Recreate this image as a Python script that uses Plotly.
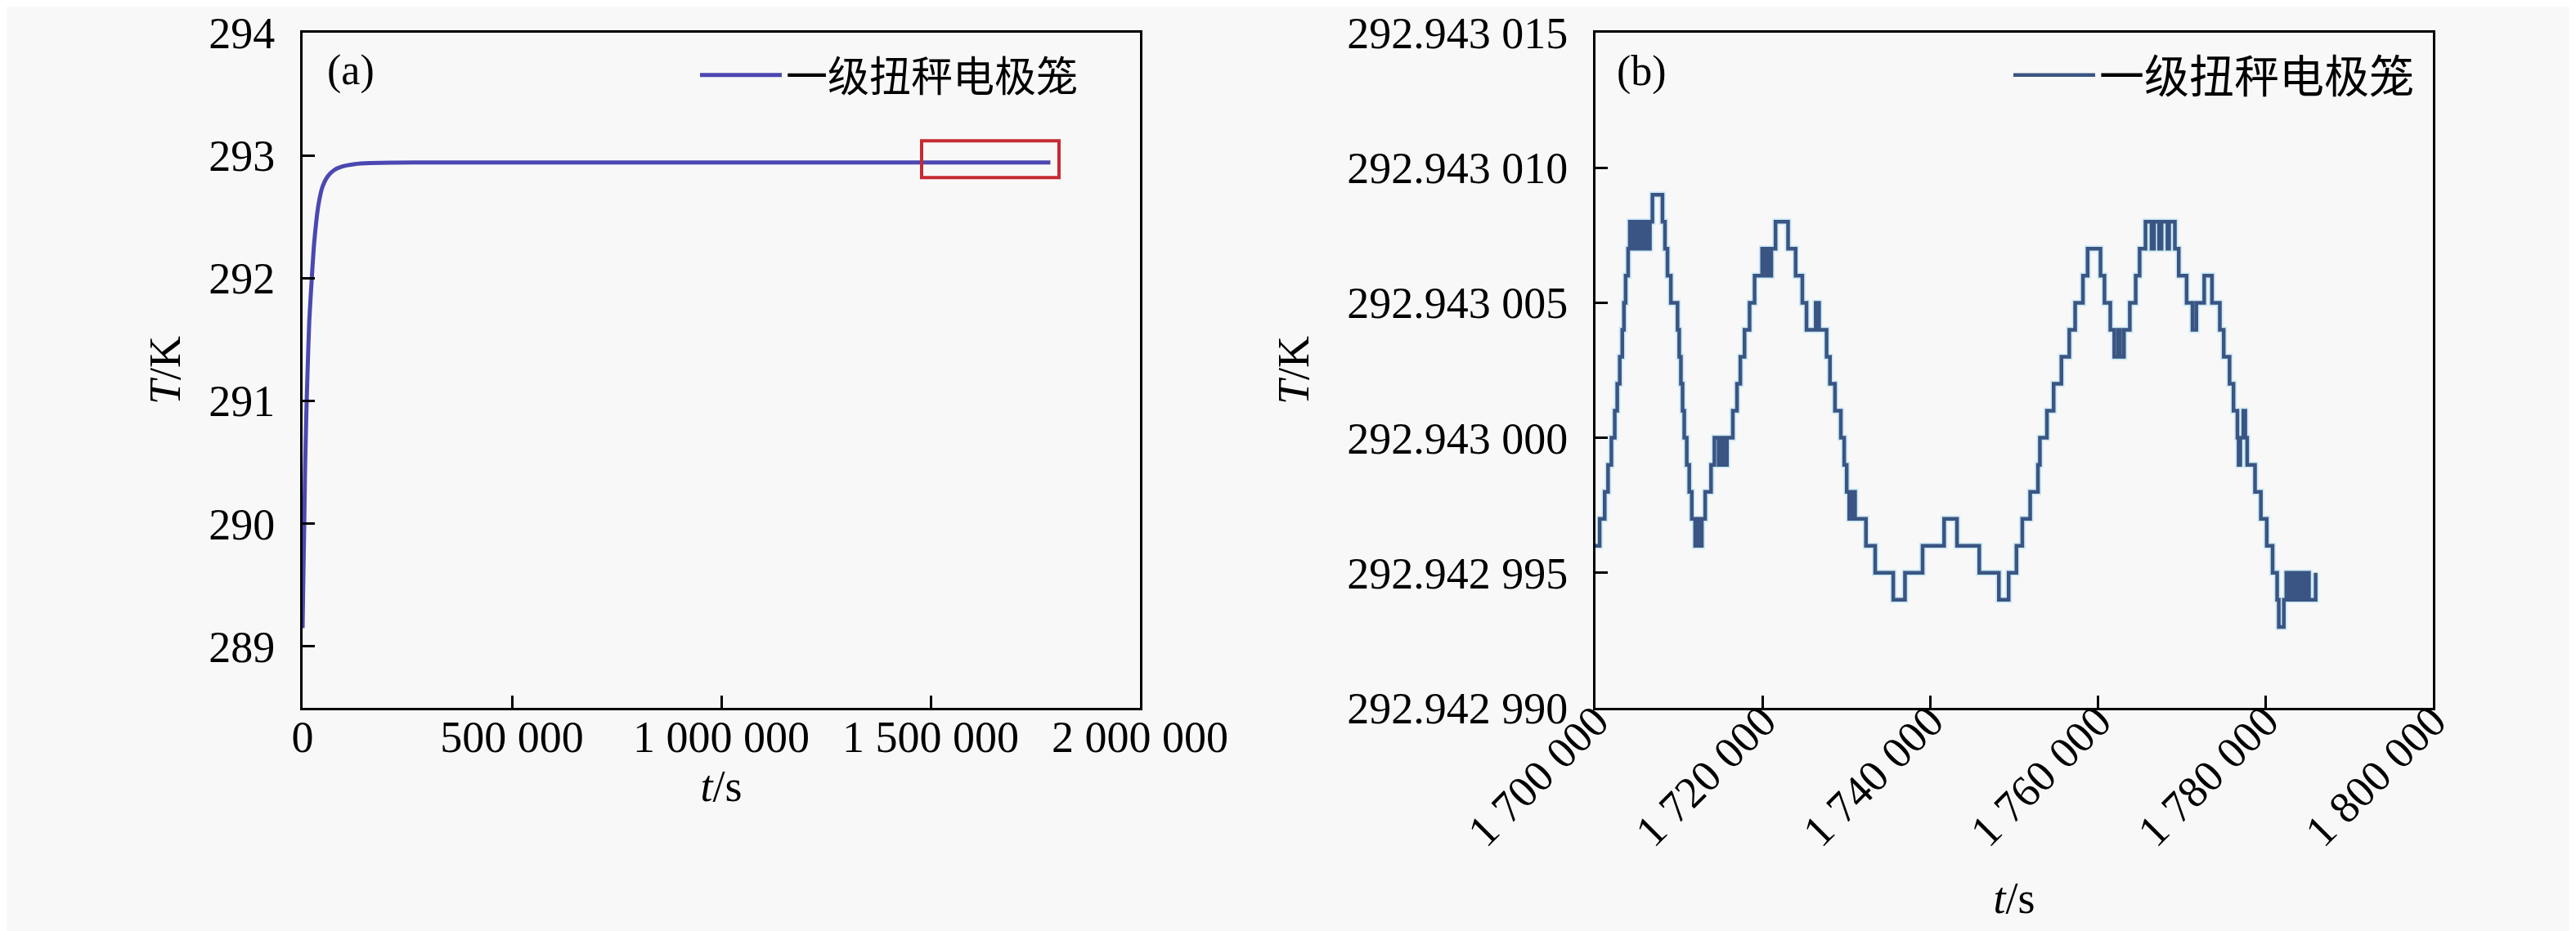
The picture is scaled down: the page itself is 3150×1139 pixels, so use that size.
import plotly.graph_objects as go

# ---------------- data ----------------
# panel (a): full run
t_a = [0, 2000, 4000, 6000, 9000, 12000, 16000, 22000, 28000, 38000, 48000,
       60000, 75000, 95000, 125000, 160000, 220000, 300000, 1786000]
T_a = [289.15, 289.6, 290.0, 290.45, 290.9, 291.25, 291.65, 292.0, 292.3, 292.6,
       292.75, 292.83, 292.88, 292.91, 292.93, 292.938, 292.941, 292.943, 292.943]

# panel (b): zoom of the red box (step data)
t_b = [1700000, 1700500, 1701100, 1701500, 1701900, 1702300, 1702600, 1702900, 1703200, 1703400,
       1703600, 1703900, 1704100, 1704300, 1704500, 1704800, 1705000, 1705300, 1705500, 1705800,
       1706000, 1706300, 1706500, 1706800, 1708000, 1708300, 1708600, 1709000, 1709800, 1710000,
       1710200, 1710400, 1710600, 1710900, 1711200, 1711500, 1711900, 1712100, 1712200, 1712400,
       1712500, 1712700, 1713100, 1713800, 1714200, 1714700, 1714900, 1715100, 1715300, 1715500,
       1715700, 1716400, 1716900, 1717300, 1717800, 1718400, 1719000, 1719900, 1720200, 1720500,
       1720700, 1721000, 1721500, 1723000, 1723900, 1724700, 1725200, 1726300, 1726700, 1727600,
       1728000, 1728600, 1729300, 1729700, 1730000, 1730300, 1730400, 1730600, 1730800, 1731000,
       1732300, 1733400, 1735560, 1736960, 1739060, 1741630, 1743170, 1745830, 1748170, 1749340,
       1750270, 1750970, 1751910, 1752840, 1753070, 1753910, 1754710, 1755640, 1756580, 1757280,
       1758210, 1758770, 1760310, 1760780, 1761480, 1761950, 1762410, 1762650, 1763110, 1763810,
       1764510, 1764980, 1765680, 1766400, 1766700, 1767300, 1767600, 1768300, 1768500, 1769190,
       1769650, 1770590, 1771290, 1771750, 1772690, 1773620, 1774560, 1775020, 1775720, 1776190,
       1776660, 1776800, 1777000, 1777360, 1777600, 1777820, 1778760, 1779460, 1780160, 1780860,
       1781400, 1781600, 1782200, 1782500, 1782700, 1783000, 1783200, 1783500, 1783700, 1784000,
       1784200, 1784500, 1784700, 1785000, 1785200, 1786000]
T_b = [292.942996, 292.942997, 292.942998, 292.942999, 292.943000, 292.943001, 292.943002, 292.943003, 292.943004, 292.943005,
       292.943006, 292.943007, 292.943008, 292.943007, 292.943008, 292.943007, 292.943008, 292.943007, 292.943008, 292.943007,
       292.943008, 292.943007, 292.943008, 292.943009, 292.943008, 292.943007, 292.943006, 292.943005, 292.943004, 292.943003,
       292.943002, 292.943001, 292.943000, 292.942999, 292.942998, 292.942997, 292.942996, 292.942997, 292.942996, 292.942997,
       292.942996, 292.942997, 292.942998, 292.942999, 292.943000, 292.942999, 292.943000, 292.942999, 292.943000, 292.942999,
       292.943000, 292.943001, 292.943002, 292.943003, 292.943004, 292.943005, 292.943006, 292.943007, 292.943006, 292.943007,
       292.943006, 292.943007, 292.943008, 292.943007, 292.943006, 292.943005, 292.943004, 292.943005, 292.943004, 292.943003,
       292.943002, 292.943001, 292.943000, 292.942999, 292.942998, 292.942997, 292.942998, 292.942997, 292.942998, 292.942997,
       292.942996, 292.942995, 292.942994, 292.942995, 292.942996, 292.942997, 292.942996, 292.942995, 292.942994, 292.942995,
       292.942996, 292.942997, 292.942998, 292.942999, 292.943000, 292.943001, 292.943002, 292.943003, 292.943004, 292.943005,
       292.943006, 292.943007, 292.943006, 292.943005, 292.943004, 292.943003, 292.943004, 292.943003, 292.943004, 292.943005,
       292.943006, 292.943007, 292.943008, 292.943007, 292.943008, 292.943007, 292.943008, 292.943007, 292.943008, 292.943007,
       292.943006, 292.943005, 292.943004, 292.943005, 292.943006, 292.943005, 292.943004, 292.943003, 292.943002, 292.943001,
       292.943000, 292.942999, 292.943000, 292.943001, 292.943000, 292.942999, 292.942998, 292.942997, 292.942996, 292.942995,
       292.942994, 292.942993, 292.942994, 292.942995, 292.942994, 292.942995, 292.942994, 292.942995, 292.942994, 292.942995,
       292.942994, 292.942995, 292.942994, 292.942995, 292.942994, 292.942995]

# red box in (a): [t0, t1], [T0, T1]
box_t = [1478500, 1806600]
box_T = [292.82, 293.12]

series_name = "一级扭秤电极笼"

xa_ticks = [0, 500000, 1000000, 1500000, 2000000]
xa_text = ["0", "500 000", "1 000 000", "1 500 000", "2 000 000"]
ya_ticks = [289, 290, 291, 292, 293, 294]
ya_text = ["289", "290", "291", "292", "293", "294"]
xb_ticks = [1700000, 1720000, 1740000, 1760000, 1780000, 1800000]
xb_text = ["1 700 000", "1 720 000", "1 740 000", "1 760 000", "1 780 000", "1 800 000"]
yb_ticks = [292.942990, 292.942995, 292.943000, 292.943005, 292.943010, 292.943015]
yb_text = ["292.942 990", "292.942 995", "292.943 000", "292.943 005", "292.943 010", "292.943 015"]

# ---------------- figure ----------------
W, H = 3150, 1139
SERIF = "Liberation Serif, Times New Roman, serif"
CJK = "Liberation Serif, Noto Sans CJK SC, sans-serif"
BG = "#f8f8f8"

def px(v):
    return v / W

def py(v):
    return 1 - v / H

fig = go.Figure()

fig.add_trace(go.Scatter(x=t_a, y=T_a, mode="lines", name=series_name,
                         line=dict(color="#4b48b2", width=5, shape="spline", smoothing=0.6),
                         xaxis="x", yaxis="y", legend="legend"))

fig.add_trace(go.Scatter(x=t_b, y=T_b, mode="lines", name=series_name,
                         line=dict(color="#cde9f5", width=8, shape="hv"),
                         xaxis="x2", yaxis="y2", showlegend=False, hoverinfo="skip"))
fig.add_trace(go.Scatter(x=t_b, y=T_b, mode="lines", name=series_name,
                         line=dict(color="#3a5583", width=4.5, shape="hv"),
                         xaxis="x2", yaxis="y2", legend="legend2"))

axis_common = dict(showline=True, linecolor="black", linewidth=3, mirror=True,
                   ticks="inside", ticklen=15, tickwidth=3, tickcolor="black",
                   showgrid=False, zeroline=False, automargin=False,
                   tickfont=dict(family=SERIF, size=54, color="black"),
                   title_font=dict(family=SERIF, size=54, color="black"))

fig.update_layout(
    width=W, height=H,
    margin=dict(l=0, r=0, t=0, b=0, autoexpand=False),
    paper_bgcolor=BG, plot_bgcolor=BG,
    xaxis=dict(domain=[px(362), px(1386)], range=[0, 2000000], anchor="y",
               tickmode="array", tickvals=xa_ticks, ticktext=xa_text,
               ticklabelstandoff=-14,
               title=dict(text="<i>t</i>/s", standoff=2), **axis_common),
    yaxis=dict(domain=[py(858), py(32)], range=[288.5, 294], anchor="x",
               tickmode="array", tickvals=ya_ticks, ticktext=ya_text,
               ticklabelstandoff=20,
               title=dict(text="<i>T</i>/K", standoff=18), **axis_common),
    xaxis2=dict(domain=[px(1943), px(2967)], range=[1700000, 1800000], anchor="y2",
                tickmode="array", tickvals=xb_ticks, ticktext=xb_text, tickangle=-45,
                ticklabelstandoff=-40, ticklabelshift=0,
                title=dict(text="<i>t</i>/s", standoff=34), **axis_common),
    yaxis2=dict(domain=[py(858), py(32)], range=[292.942990, 292.943015], anchor="x2",
                tickmode="array", tickvals=yb_ticks, ticktext=yb_text,
                ticklabelstandoff=20,
                title=dict(text="<i>T</i>/K", standoff=30), **axis_common),
    legend=dict(x=px(1316), y=py(84), xanchor="right", yanchor="middle",
                bgcolor="rgba(0,0,0,0)", borderwidth=0, itemwidth=100,
                font=dict(family=CJK, size=51, color="black")),
    legend2=dict(x=px(2950), y=py(84), xanchor="right", yanchor="middle",
                 bgcolor="rgba(0,0,0,0)", borderwidth=0, itemwidth=100,
                 font=dict(family=CJK, size=55, color="black")),
    showlegend=True,
)

fig.add_shape(type="rect", xref="x", yref="y",
              x0=box_t[0], x1=box_t[1], y0=box_T[0], y1=box_T[1],
              line=dict(color="#c62a32", width=4), fillcolor="rgba(0,0,0,0)")

fig.add_annotation(text="(a)", x=px(421), y=py(78), xref="paper", yref="paper",
                   xanchor="center", yanchor="middle", showarrow=False,
                   font=dict(family=SERIF, size=52, color="black"))
fig.add_annotation(text="(b)", x=px(1999), y=py(79), xref="paper", yref="paper",
                   xanchor="center", yanchor="middle", showarrow=False,
                   font=dict(family=SERIF, size=52, color="black"))

fig.write_html("out.html")
